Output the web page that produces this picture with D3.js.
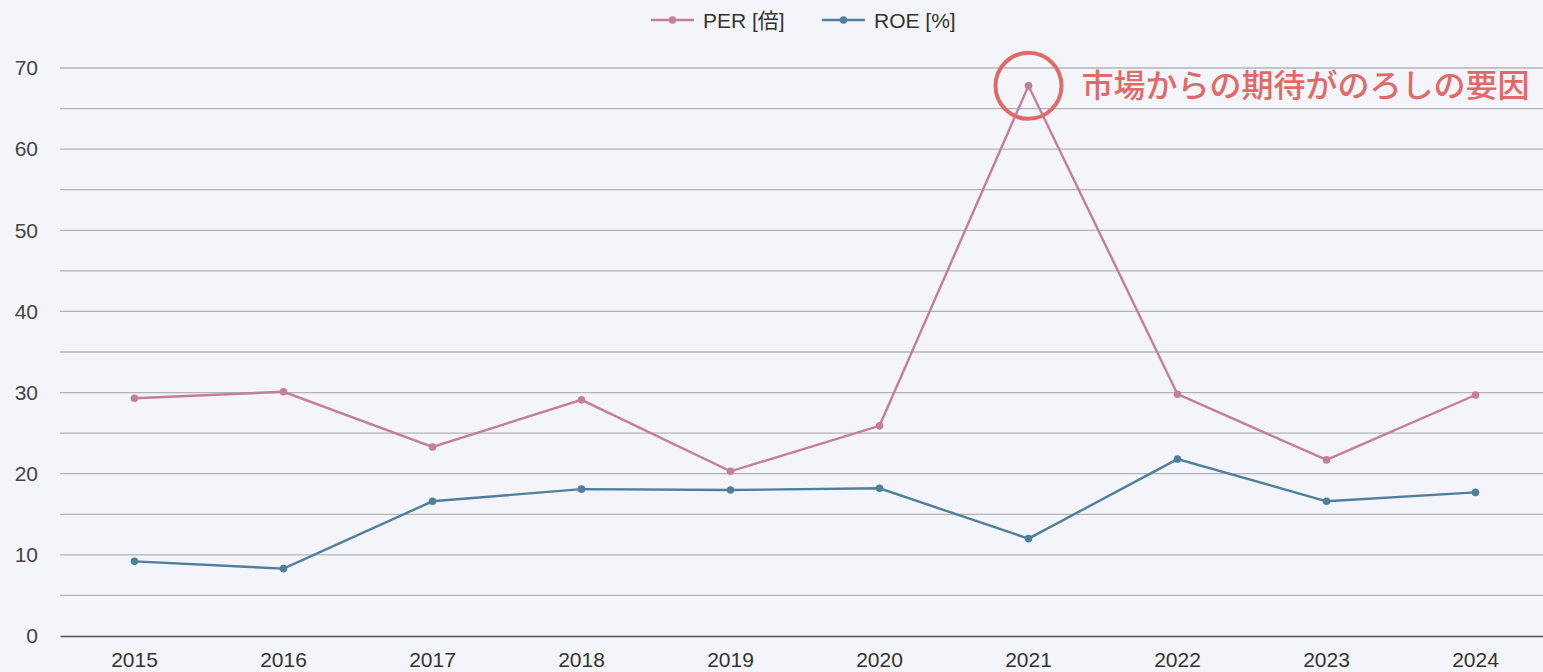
<!DOCTYPE html>
<html>
<head>
<meta charset="utf-8">
<script src="https://cdn.jsdelivr.net/npm/d3@7"></script>
<style>
  html, body { margin: 0; padding: 0; background: #f4f5fa; }
  #chart { width: 1543px; height: 672px; overflow: hidden; }
</style>
</head>
<body>
<div id="chart"></div>
<script>
const years = ['2015', '2016', '2017', '2018', '2019', '2020', '2021', '2022', '2023', '2024'];
const perValues = [29.3, 30.1, 23.3, 29.1, 20.3, 25.9, 67.8, 29.8, 21.7, 29.7];
const roeValues = [9.2, 8.3, 16.6, 18.1, 18.0, 18.2, 12.0, 21.8, 16.6, 17.7];
const yTicks = [0, 10, 20, 30, 40, 50, 60, 70];
const seriesNames = ['PER [倍]', 'ROE [%]'];
const noteText = '市場からの期待がのろしの要因';
const noteYear = '2021';

const width = 1543, height = 672;
const margin = { top: 68, right: 0, bottom: 36, left: 60 };
const colors = { per: '#c47e99', roe: '#4f7f9c' };
const font = 'Liberation Sans, Arial, "Noto Sans CJK JP", sans-serif';

const svg = d3.select('#chart')
    .append('svg')
    .attr('width', width)
    .attr('height', height);

// scales
const x = d3.scaleBand().domain(years)
    .range([margin.left, 1550]);
const y = d3.scaleLinear().domain([0, 70])
    .range([height - margin.bottom, margin.top]);

// grid, every 5
const grid = svg.append('g');
grid.selectAll('line')
    .data(d3.range(5, 75, 5))
    .join('line')
    .attr('x1', margin.left).attr('x2', width)
    .attr('y1', d => y(d)).attr('y2', d => y(d))
    .attr('stroke', '#b2b3b7')
    .attr('stroke-width', 1.3);

// y axis
const yAxis = svg.append('g')
    .attr('transform', `translate(${margin.left},0)`)
    .call(d3.axisLeft(y).tickValues(yTicks).tickSize(0).tickPadding(22));
yAxis.select('.domain').remove();
yAxis.selectAll('text')
    .attr('font-family', font)
    .attr('font-size', 21)
    .attr('fill', '#444');

// x axis
const xAxis = svg.append('g')
    .attr('transform', `translate(0,${y(0)})`)
    .call(d3.axisBottom(x).tickSize(0).tickPadding(16));
xAxis.select('.domain')
    .attr('stroke', '#555')
    .attr('stroke-width', 1.4);
xAxis.selectAll('text')
    .attr('font-family', font)
    .attr('font-size', 21)
    .attr('fill', '#333');

const cx = d => x(d) + x.bandwidth() / 2;

const series = [
    { name: seriesNames[0], values: perValues, color: colors.per },
    { name: seriesNames[1], values: roeValues, color: colors.roe }
];

const line = d3.line()
    .x((d, i) => cx(years[i]))
    .y(d => y(d));

series.forEach(s => {
    svg.append('path')
        .datum(s.values)
        .attr('fill', 'none')
        .attr('stroke', s.color)
        .attr('stroke-width', 2.4)
        .attr('d', line);
    svg.append('g')
        .selectAll('circle')
        .data(s.values)
        .join('circle')
        .attr('cx', (d, i) => cx(years[i]))
        .attr('cy', d => y(d))
        .attr('r', 3.8)
        .attr('fill', s.color);
});

// legend
const legend = svg.append('g').attr('transform', 'translate(651,20)');
const legendX = [0, 171];
series.forEach((s, i) => {
    const g = legend.append('g').attr('transform', `translate(${legendX[i]},0)`);
    g.append('line')
        .attr('x1', 0).attr('x2', 43)
        .attr('stroke', s.color).attr('stroke-width', 2.4);
    g.append('circle')
        .attr('cx', 21.5).attr('r', 3.8).attr('fill', s.color);
    g.append('text')
        .attr('x', 52).attr('y', 7.5)
        .attr('font-family', font)
        .attr('font-size', 21)
        .attr('fill', '#333')
        .text(s.name);
});

// annotation
const noteIdx = years.indexOf(noteYear);
svg.append('circle')
    .attr('cx', cx(noteYear))
    .attr('cy', y(perValues[noteIdx]))
    .attr('r', 33)
    .attr('fill', 'none')
    .attr('stroke', '#e06a68')
    .attr('stroke-width', 4);
svg.append('text')
    .attr('x', cx(noteYear) + 53)
    .attr('y', y(perValues[noteIdx]) + 11)
    .attr('font-family', '"Noto Sans CJK JP", sans-serif')
    .attr('font-size', 32)
    .attr('font-weight', 500)
    .attr('fill', '#e06a68')
    .text(noteText);
</script>
</body>
</html>
